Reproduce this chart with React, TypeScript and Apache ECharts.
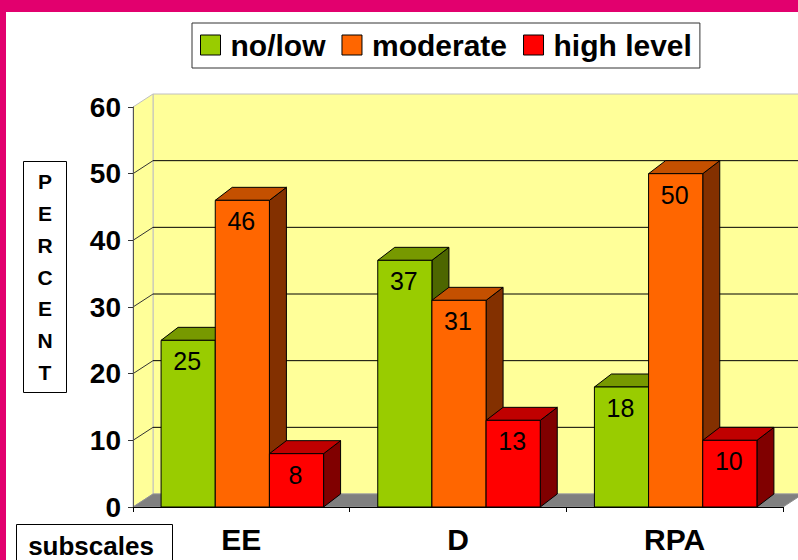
import { useEffect, useRef } from 'react';
import * as echarts from 'echarts';

const categories = ['EE', 'D', 'RPA'];
const seriesNames = ['no/low', 'moderate', 'high level'];
const noLow = [25, 37, 18];
const moderate = [46, 31, 50];
const highLevel = [8, 13, 10];
const yMin = 0;
const yMax = 60;
const yInterval = 10;
const gridValues = [10, 20, 30, 40, 50];

const FONT = '"Liberation Sans", Arial, Helvetica, sans-serif';
const PINK = '#E2006E';

// face colours: front, top, side
const palettes = [
  { front: '#99CC00', top: '#779900', side: '#4D6600' },
  { front: '#FF6600', top: '#C45000', side: '#833000' },
  { front: '#FF0000', top: '#C00000', side: '#800000' },
];

const WALL_DX = 20;
const WALL_DY = 13;
const BAR_DX = 17;
const BAR_DY = 13;
const BAR_FRAC = 0.25;

export default function App() {
  const ref = useRef<HTMLDivElement>(null);

  useEffect(() => {
    if (!ref.current) return;
    const chart = echarts.init(ref.current, undefined, { renderer: 'svg' });

    const wallsRender = (params: any, api: any) => {
      const cs = params.coordSys;
      const x0 = cs.x;
      const x1 = cs.x + cs.width;
      const yTop = api.coord([0, yMax])[1];
      const yBase = api.coord([0, yMin])[1];
      const children: any[] = [];
      children.push({
        type: 'rect',
        shape: { x: x0 + WALL_DX, y: yTop - WALL_DY, width: x1 - x0 + 40, height: yBase - yTop },
        style: { fill: '#FFFF99', stroke: '#C0C0C0', lineWidth: 1 },
      });
      children.push({
        type: 'polygon',
        shape: {
          points: [
            [x0, yTop],
            [x0 + WALL_DX, yTop - WALL_DY],
            [x0 + WALL_DX, yBase - WALL_DY],
            [x0, yBase],
          ],
        },
        style: { fill: '#FFFF99', stroke: '#C0C0C0', lineWidth: 1 },
      });
      children.push({
        type: 'polygon',
        shape: {
          points: [
            [x0, yBase],
            [x1, yBase],
            [x1 + WALL_DX, yBase - WALL_DY],
            [x0 + WALL_DX, yBase - WALL_DY],
          ],
        },
        style: { fill: '#808080', stroke: '#909090', lineWidth: 1 },
      });
      gridValues.forEach((v) => {
        const y = api.coord([0, v])[1];
        children.push({
          type: 'line',
          shape: { x1: x0 + WALL_DX, y1: y - WALL_DY, x2: x1 + WALL_DX + 40, y2: y - WALL_DY },
          style: { stroke: '#000', lineWidth: 1 },
        });
        children.push({
          type: 'line',
          shape: { x1: x0, y1: y, x2: x0 + WALL_DX, y2: y - WALL_DY },
          style: { stroke: '#333', lineWidth: 1 },
        });
      });
      return { type: 'group', children };
    };

    const makeBarRender = (k: number) => (params: any, api: any) => {
      const idx = api.value(0);
      const val = api.value(1);
      const band = api.size([1, 0])[0];
      const base = api.coord([idx, 0]);
      const topPt = api.coord([idx, val]);
      const bw = band * BAR_FRAC;
      const xL = base[0] + (k - 1.5) * bw + 1;
      const xR = xL + bw;
      const yT = topPt[1];
      const y0 = base[1];
      const pal = palettes[k];
      const edge = { stroke: '#000', lineWidth: 1, lineJoin: 'round' };
      return {
        type: 'group',
        children: [
          {
            type: 'polygon',
            shape: {
              points: [
                [xR, yT],
                [xR + BAR_DX, yT - BAR_DY],
                [xR + BAR_DX, y0 - BAR_DY],
                [xR, y0],
              ],
            },
            style: { fill: pal.side, ...edge },
          },
          {
            type: 'polygon',
            shape: {
              points: [
                [xL, yT],
                [xR, yT],
                [xR + BAR_DX, yT - BAR_DY],
                [xL + BAR_DX, yT - BAR_DY],
              ],
            },
            style: { fill: pal.top, ...edge },
          },
          {
            type: 'rect',
            shape: { x: xL, y: yT, width: bw, height: y0 - yT },
            style: { fill: pal.front, ...edge },
          },
          {
            type: 'text',
            style: {
              text: String(val),
              x: (xL + xR) / 2 - 1,
              y: yT + 21,
              align: 'center',
              verticalAlign: 'middle',
              fontSize: 25,
              fontFamily: FONT,
              fill: '#000',
            },
          },
        ],
      };
    };

    const dataSets = [noLow, moderate, highLevel];

    chart.setOption({
      animation: false,
      backgroundColor: '#fff',
      grid: { left: 133, right: 15, top: 107, bottom: 53, containLabel: false },
      legend: {
        left: 192,
        top: 23,
        padding: [7, 8, 8, 8],
        itemGap: 16,
        itemWidth: 20,
        itemHeight: 20,
        icon: 'rect',
        borderColor: '#333',
        borderWidth: 1,
        backgroundColor: '#fff',
        selectedMode: false,
        data: seriesNames.map((n, i) => ({
          name: n,
          itemStyle: { color: palettes[i].front, borderColor: '#000', borderWidth: 1 },
        })),
        textStyle: {
          fontSize: 30,
          fontWeight: 'bold',
          fontFamily: FONT,
          color: '#000',
          lineHeight: 30,
          padding: [0, 0, 0, 5],
        },
      },
      xAxis: {
        type: 'category',
        data: categories,
        z: 5,
        axisLine: { lineStyle: { color: '#000', width: 1 } },
        axisTick: { show: true, length: 5, lineStyle: { color: '#000' } },
        axisLabel: {
          fontSize: 30,
          fontWeight: 'bold',
          fontFamily: FONT,
          color: '#000',
          margin: 17,
        },
        splitLine: { show: false },
      },
      yAxis: {
        type: 'value',
        min: yMin,
        max: yMax,
        interval: yInterval,
        z: 5,
        axisLine: { show: true, lineStyle: { color: '#555', width: 1 } },
        axisTick: { show: true, length: 5, lineStyle: { color: '#333' } },
        axisLabel: {
          fontSize: 28,
          fontWeight: 'bold',
          fontFamily: FONT,
          color: '#000',
          margin: 12,
        },
        splitLine: { show: false },
      },
      graphic: [
        { type: 'rect', shape: { x: 0, y: 0, width: 798, height: 12 }, style: { fill: PINK } },
        { type: 'rect', shape: { x: 0, y: 0, width: 6, height: 560 }, style: { fill: PINK } },
        {
          type: 'rect',
          shape: { x: 23.5, y: 161.5, width: 43, height: 231 },
          style: { fill: '#fff', stroke: '#000', lineWidth: 1 },
        },
        {
          type: 'text',
          style: {
            text: 'P\nE\nR\nC\nE\nN\nT',
            x: 45,
            y: 277,
            align: 'center',
            verticalAlign: 'middle',
            fontSize: 21,
            fontWeight: 'bold',
            fontFamily: FONT,
            lineHeight: 31.7,
            fill: '#000',
          },
        },
        {
          type: 'rect',
          shape: { x: 16.5, y: 524.5, width: 156, height: 60 },
          style: { fill: '#fff', stroke: '#000', lineWidth: 1 },
        },
        {
          type: 'text',
          style: {
            text: 'subscales',
            x: 91,
            y: 546,
            align: 'center',
            verticalAlign: 'middle',
            fontSize: 26,
            fontWeight: 'bold',
            fontFamily: FONT,
            fill: '#000',
          },
        },
      ],
      series: [
        {
          type: 'custom',
          name: 'walls',
          silent: true,
          z: 1,
          renderItem: wallsRender,
          data: [[0, 0]],
          encode: { x: 0, y: 1 },
        },
        ...seriesNames.map((n, k) => ({
          type: 'custom',
          name: n,
          z: 2,
          itemStyle: { color: palettes[k].front, borderColor: '#000', borderWidth: 1 },
          renderItem: makeBarRender(k),
          data: dataSets[k].map((v, i) => [i, v]),
          encode: { x: 0, y: 1 },
        })),
      ],
    });

    return () => chart.dispose();
  }, []);

  return (
    <div
      ref={ref}
      style={{ position: 'absolute', left: 0, top: 0, width: 798, height: 560 }}
    />
  );
}
